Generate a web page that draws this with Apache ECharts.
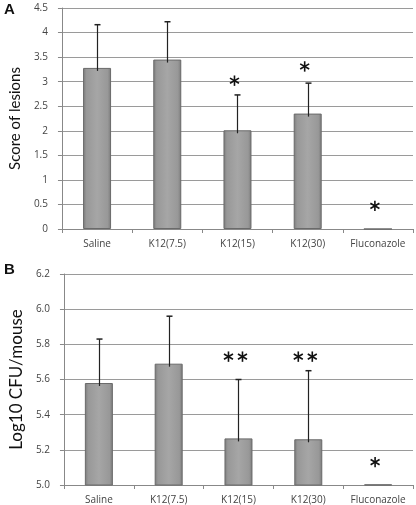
<!DOCTYPE html>
<html><head><meta charset="utf-8">
<script src="https://cdn.jsdelivr.net/npm/echarts@6/dist/echarts.min.js"></script>
<style>html,body{margin:0;padding:0;background:#fff}#c{width:416px;height:505px}</style>
</head><body><div id="c"></div>
<script>
const categories = ['Saline', 'K12(7.5)', 'K12(15)', 'K12(30)', 'Fluconazole'];
const scoreValues = [3.28, 3.45, 2.01, 2.35, 0];
const scoreErrTop = [4.16, 4.22, 2.73, 2.97, null];
const scoreStarCount = [0, 0, 1, 1, 1];
const scoreStarPos = [null, null, 3.02, 3.31, 0.47];
const cfuValues = [5.58, 5.69, 5.265, 5.26, 5.004];
const cfuErrTop = [5.83, 5.96, 5.60, 5.65, null];
const cfuStarCount = [0, 0, 2, 2, 1];
const cfuStarPos = [null, null, 5.73, 5.73, 5.13];
const scoreTicks = ['0', '0.5', '1', '1.5', '2', '2.5', '3', '3.5', '4', '4.5'];
const cfuTicks = ['5.0', '5.2', '5.4', '5.6', '5.8', '6.0', '6.2'];

const FONT = 'Open Sans';
const barStyle = {
  color: new echarts.graphic.LinearGradient(0, 0, 1, 0, [
    {offset: 0, color: '#7a7a7a'}, {offset: 0.12, color: '#989898'},
    {offset: 0.5, color: '#a6a6a6'}, {offset: 0.88, color: '#989898'}, {offset: 1, color: '#7a7a7a'}
  ]),
  borderColor: '#6a6a6a', borderWidth: 1
};
function errSeries(xi, yi, vals, tops) {
  return {
    type: 'custom', xAxisIndex: xi, yAxisIndex: yi, z: 5,
    data: vals.map((v, i) => [i, v, tops[i]]).filter(d => d[2] != null),
    renderItem: function (params, api) {
      const a = api.coord([api.value(0), api.value(1)]);
      const b = api.coord([api.value(0), api.value(2)]);
      const x = Math.round(a[0]) + 0.5;
      return {type: 'group', children: [
        {type: 'line', shape: {x1: x, y1: a[1] + 3, x2: x, y2: b[1]}, style: {stroke: '#222', lineWidth: 1.2}},
        {type: 'line', shape: {x1: x - 3, y1: b[1], x2: x + 3, y2: b[1]}, style: {stroke: '#222', lineWidth: 1.5}}
      ]};
    }
  };
}
function starShape(cx, cy, r) {
  const out = [];
  [90, 30, 150].forEach(deg => {
    const t = deg * Math.PI / 180, dx = r * Math.cos(t), dy = r * Math.sin(t);
    out.push({type: 'line', shape: {x1: cx - dx, y1: cy + dy, x2: cx + dx, y2: cy - dy},
      style: {stroke: '#111', lineWidth: 1.6}});
  });
  return out;
}
function starSeries(xi, yi, counts, pos) {
  return {
    type: 'custom', xAxisIndex: xi, yAxisIndex: yi, z: 6,
    data: counts.map((c, i) => [i, pos[i], c]).filter(d => d[2] > 0),
    renderItem: function (params, api) {
      const p = api.coord([api.value(0), api.value(1)]);
      const n = api.value(2);
      let kids = [];
      for (let k = 0; k < n; k++) {
        const cx = p[0] - 3 + (k - (n - 1) / 2) * 14;
        kids = kids.concat(starShape(cx, p[1], 5.2));
      }
      return {type: 'group', children: kids};
    }
  };
}
const axisLabelStyle = {fontFamily: FONT, fontSize: 10, color: '#444'};
const option = {
  animation: false,
  grid: [
    {left: 52, right: 3, top: 8, height: 221},
    {left: 52, right: 3, top: 274, height: 211}
  ],
  xAxis: [0, 1].map(i => ({
    type: 'category', gridIndex: i, data: categories,
    axisLine: {lineStyle: {color: '#888'}},
    axisTick: {show: true, length: 4, lineStyle: {color: '#888'}},
    axisLabel: Object.assign({}, axisLabelStyle, {margin: 10, fontSize: 10, interval: 0, hideOverlap: false})
  })),
  yAxis: [
    {type: 'value', gridIndex: 0, min: 0, max: 4.5, interval: 0.5,
     name: 'Score of lesions', nameLocation: 'middle', nameGap: 30,
     nameTextStyle: {fontFamily: 'Lato', fontSize: 15, color: '#111'},
     axisLine: {show: true, lineStyle: {color: '#888'}},
     axisTick: {show: true, length: 4, lineStyle: {color: '#888'}},
     splitLine: {lineStyle: {color: '#9a9a9a'}},
     axisLabel: Object.assign({margin: 14, formatter: v => scoreTicks[Math.round(v / 0.5)]}, axisLabelStyle)},
    {type: 'value', gridIndex: 1, min: 5.0, max: 6.2, interval: 0.2,
     name: 'Log10 CFU/mouse', nameLocation: 'middle', nameGap: 30,
     nameTextStyle: {fontFamily: 'Lato', fontSize: 17, color: '#111'},
     axisLine: {show: true, lineStyle: {color: '#888'}},
     axisTick: {show: true, length: 4, lineStyle: {color: '#888'}},
     splitLine: {lineStyle: {color: '#9a9a9a'}},
     axisLabel: Object.assign({margin: 14, formatter: v => cfuTicks[Math.round((v - 5) / 0.2)]}, axisLabelStyle)}
  ],
  graphic: [
    {type: 'text', left: 4, top: 2, style: {text: 'A', fontFamily: 'Liberation Sans', fontWeight: 'bold', fontSize: 15, fill: '#111'}},
    {type: 'text', left: 4, top: 262, style: {text: 'B', fontFamily: 'Liberation Sans', fontWeight: 'bold', fontSize: 15, fill: '#111'}}
  ],
  series: [
    {type: 'bar', xAxisIndex: 0, yAxisIndex: 0, data: scoreValues, barWidth: 28, itemStyle: barStyle},
    {type: 'bar', xAxisIndex: 1, yAxisIndex: 1, data: cfuValues, barWidth: 28, itemStyle: barStyle},
    errSeries(0, 0, scoreValues, scoreErrTop),
    errSeries(1, 1, cfuValues, cfuErrTop),
    starSeries(0, 0, scoreStarCount, scoreStarPos),
    starSeries(1, 1, cfuStarCount, cfuStarPos)
  ]
};
echarts.init(document.getElementById('c')).setOption(option);
</script></body></html>
